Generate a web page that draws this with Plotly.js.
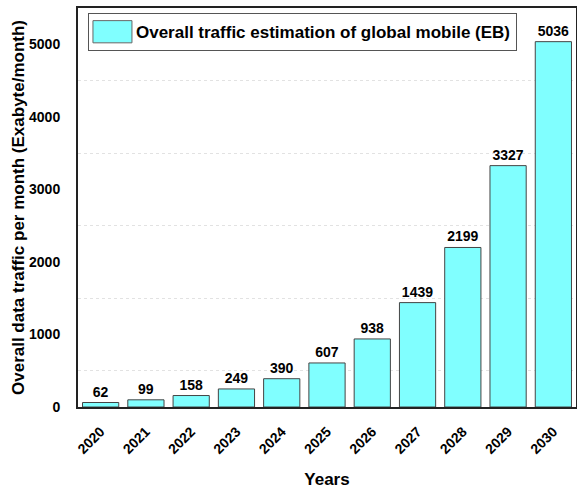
<!DOCTYPE html>
<html>
<head>
<meta charset="utf-8">
<script src="https://cdn.plot.ly/plotly-3.0.1.min.js"></script>
<style>html,body{margin:0;padding:0;background:#fff;}</style>
</head>
<body>
<div id="chart" style="width:577px;height:491px;"></div>
<script>
const years = ['2020','2021','2022','2023','2024','2025','2026','2027','2028','2029','2030'];
const traffic = [62, 99, 158, 249, 390, 607, 938, 1439, 2199, 3327, 5036];
const seriesName = 'Overall traffic estimation of global mobile (EB)';
const yTickVals = [0, 1000, 2000, 3000, 4000, 5000];
const yGridVals = [500, 1500, 2500, 3500, 4500];

const font = 'Liberation Sans, Arial, sans-serif';

const trace = {
  type: 'bar',
  x: years,
  y: traffic,
  name: seriesName,
  text: traffic.map(String),
  textposition: 'outside',
  cliponaxis: false,
  textfont: {family: font, size: 14, color: '#000', weight: 'bold'},
  marker: {color: '#80FFFF', line: {color: '#444', width: 1}},
  showlegend: true
};

const layout = {
  width: 577,
  height: 491,
  margin: {l: 78, r: 1, t: 8, b: 84},
  paper_bgcolor: '#fff',
  plot_bgcolor: '#fff',
  bargap: 0.2,
  font: {family: font, color: '#000'},
  showlegend: true,
  legend: {
    x: 0.02, y: 0.987, xanchor: 'left', yanchor: 'top',
    bgcolor: '#fff', bordercolor: '#555', borderwidth: 1,
    font: {family: font, size: 17, color: '#000', weight: 'bold'},
    itemwidth: 37
  },
  xaxis: {
    type: 'category',
    tickangle: -45,
    tickfont: {family: font, size: 14, weight: 'bold', color: '#000'},
    showline: true, linecolor: '#222', linewidth: 2, mirror: true,
    ticks: 'outside', ticklen: 9, tickcolor: 'rgba(0,0,0,0)', showgrid: false,
    title: {text: 'Years', font: {family: font, size: 17, weight: 'bold', color: '#000'}, standoff: 17}
  },
  yaxis: {
    range: [0, 5500],
    tickvals: yTickVals,
    tickfont: {family: font, size: 14, weight: 'bold', color: '#000'},
    showline: true, linecolor: '#222', linewidth: 2, mirror: true,
    ticks: 'outside', ticklen: 13, tickcolor: 'rgba(0,0,0,0)',
    showgrid: false, zeroline: false,
    minor: {tickvals: yGridVals, showgrid: true, gridcolor: '#e2e2e2', griddash: 'dot', gridwidth: 1, ticks: ''},
    title: {text: 'Overall data traffic per month (Exabyte/month)', font: {family: font, size: 17, weight: 'bold', color: '#000'}, standoff: 0}
  }
};

Plotly.newPlot('chart', [trace], layout, {staticPlot: true}).then(function () {
  document.querySelectorAll('.legend .legendpoints path').forEach(function (p) {
    p.setAttribute('transform', 'translate(23.5,0) scale(3.25,1.85)');
    p.setAttribute('vector-effect', 'non-scaling-stroke');
    p.style.strokeWidth = '1px';
    p.style.stroke = '#666';
  });
});
</script>
</body>
</html>
